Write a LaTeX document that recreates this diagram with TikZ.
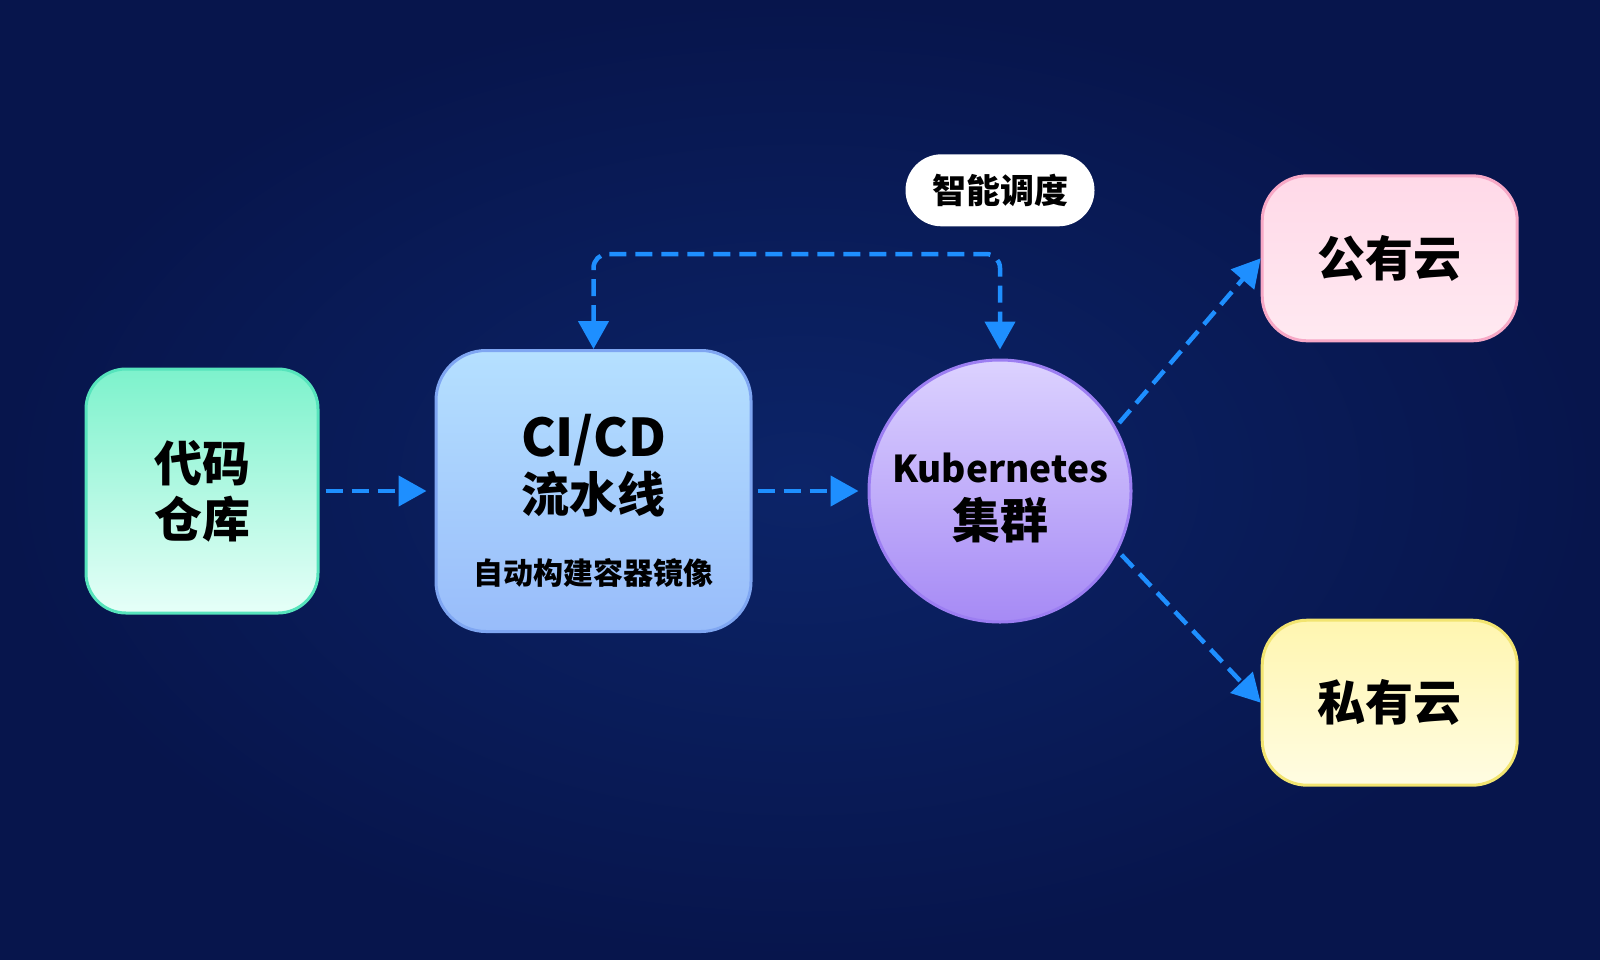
\documentclass[tikz,border=0pt]{standalone}
\usepackage{fontspec}
\setmainfont{Noto Sans CJK SC}
\usepackage{xcolor}
\usetikzlibrary{arrows.meta,positioning,calc,shapes.geometric,backgrounds}
\definecolor{BgIn}{HTML}{0C2468}
\definecolor{BgOut}{HTML}{07154C}
\definecolor{Flow}{HTML}{1E8FFF}
\definecolor{RepoTop}{HTML}{7DF2CC}
\definecolor{RepoBot}{HTML}{E6FFF8}
\definecolor{RepoLine}{HTML}{56E4BC}
\definecolor{CicdTop}{HTML}{B5E0FF}
\definecolor{CicdBot}{HTML}{98BCFA}
\definecolor{CicdLine}{HTML}{7FA6F2}
\definecolor{KubeTop}{HTML}{DCD2FF}
\definecolor{KubeBot}{HTML}{A68AF5}
\definecolor{KubeLine}{HTML}{9C7EF2}
\definecolor{PubTop}{HTML}{FFD9E8}
\definecolor{PubBot}{HTML}{FFE9F1}
\definecolor{PubLine}{HTML}{F7A8C6}
\definecolor{PrivTop}{HTML}{FFF6B0}
\definecolor{PrivBot}{HTML}{FFFCE2}
\definecolor{PrivLine}{HTML}{F2E470}
\newcommand{\bigcjk}{\fontsize{48}{56}\selectfont\bfseries}
\newcommand{\subcjk}{\fontsize{30}{36}\selectfont\bfseries}

\begin{document}
\begin{tikzpicture}[x=1pt,y=-1pt,node distance=115pt,
  every node/.style={text=black,align=center},
  flow/.style={draw=Flow,line width=4.5pt,dash pattern=on 17pt off 9pt,-{Triangle[length=28pt,width=30pt]}}]
\useasboundingbox (0,0) rectangle (1600,959);
\shade[inner color=BgIn,outer color=BgOut] (0,0) rectangle (1600,959);
% stages
\node[draw=RepoLine,line width=3pt,rounded corners=40pt,top color=RepoTop,bottom color=RepoBot,minimum width=232pt,minimum height=244pt,font=\bigcjk] (repo) at (202,491) {代码\\仓库};
\node[draw=CicdLine,line width=3pt,rounded corners=50pt,top color=CicdTop,bottom color=CicdBot,minimum width=315pt,minimum height=281pt,font=\bigcjk,right=of repo] (cicd) {{\fontsize{52}{58}\selectfont\rule{0pt}{62pt}CI/CD}\\流水线\\[16pt]{\subcjk 自动构建容器镜像}};
\node[circle,draw=KubeLine,line width=3pt,top color=KubeTop,bottom color=KubeBot,minimum size=262pt,inner sep=0pt,font=\bigcjk,right=of cicd] (k8s) {{\fontsize{37}{48}\selectfont\rule{0pt}{44pt}Kubernetes}\\集群};
\node[draw=PubLine,line width=3pt,rounded corners=45pt,top color=PubTop,bottom color=PubBot,minimum width=255pt,minimum height=165pt,font=\bigcjk,above right=55pt and 167pt of k8s] (pub) {公有云};
\node[draw=PrivLine,line width=3pt,rounded corners=45pt,top color=PrivTop,bottom color=PrivBot,minimum width=255pt,minimum height=165pt,font=\bigcjk,below right=34pt and 167pt of k8s] (priv) {私有云};
\node[fill=white,rounded corners=36pt,minimum width=189pt,minimum height=72pt,font=\fontsize{34}{40}\selectfont\bfseries,above=132pt of k8s] (sched) {智能调度};
% connectors
\draw[flow,shorten <=6pt,shorten >=8pt] (repo) -- (cicd);
\draw[flow,shorten <=5pt,shorten >=9pt] (cicd) -- (k8s);
\draw[flow,{Triangle[length=28pt,width=30pt]}-{Triangle[length=28pt,width=30pt]},rounded corners=14pt,shorten >=9pt] (cicd.north) -- ++(0,-95) -| (k8s.north);
\draw[flow,shorten <=5pt] (k8s.29) -- (pub.west);
\draw[flow,shorten <=5pt] (k8s.-27) -- (priv.west);
\end{tikzpicture}
\end{document}
